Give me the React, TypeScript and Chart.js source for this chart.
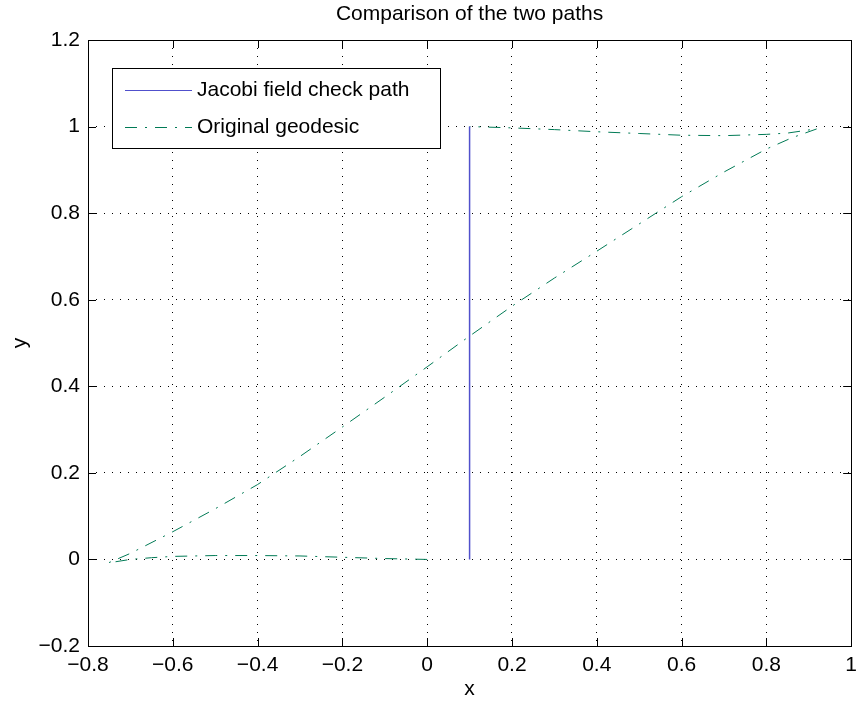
import React, { useEffect, useRef } from "react";
import { Chart, registerables } from "chart.js";

Chart.register(...registerables);

// Jacobi field check path (vertical segment)
const jacobiX = [0.1, 0.1];
const jacobiY = [0, 1];

// Original geodesic, in drawing order: bottom arc (right to left), diagonal (up), top arc (right to left)
const geodesicX = [
  0, -0.1, -0.2, -0.3, -0.4, -0.5, -0.6, -0.65, -0.7, -0.752,
  -0.7, -0.6, -0.5, -0.4, -0.3, -0.2, -0.1, 0, 0.1, 0.2, 0.3, 0.4, 0.5, 0.6, 0.7, 0.8, 0.86, 0.92,
  0.85, 0.8, 0.7, 0.6, 0.5, 0.4, 0.3, 0.2, 0.1,
];
const geodesicY = [
  0, 0.002, 0.005, 0.008, 0.009, 0.009, 0.007, 0.004, 0.0, -0.008,
  0.014, 0.064, 0.117, 0.173, 0.238, 0.306, 0.375, 0.445, 0.516, 0.585, 0.65, 0.712, 0.775, 0.838, 0.895, 0.948, 0.974, 0.995,
  0.985, 0.982, 0.979, 0.98, 0.984, 0.988, 0.993, 0.997, 1.0,
];

const xTicks = [-0.8, -0.6, -0.4, -0.2, 0, 0.2, 0.4, 0.6, 0.8, 1];
const yTicks = [-0.2, 0, 0.2, 0.4, 0.6, 0.8, 1, 1.2];

const titleText = "Comparison of the two paths";
const xLabel = "x";
const yLabel = "y";
const legendLabels = ["Jacobi field check path", "Original geodesic"];

const BLUE = "#5050cc";
const GREEN = "#007a55";
const FONT = "'Liberation Sans', Arial, Helvetica, sans-serif";

const fmt = (v: number) => {
  const r = Math.round(v * 10) / 10;
  const s = String(Math.abs(r));
  return r < 0 ? "\u2212" + s : s;
};

const decorPlugin = {
  id: "matlabDecor",
  afterDraw(chart: any) {
    const ctx = chart.ctx as CanvasRenderingContext2D;
    const { left, right, top, bottom } = chart.chartArea;
    const xs = chart.scales.x;
    const ys = chart.scales.y;
    ctx.save();
    // box
    ctx.strokeStyle = "#000";
    ctx.lineWidth = 1;
    ctx.setLineDash([]);
    ctx.strokeRect(Math.round(left) + 0.5, Math.round(top) + 0.5, Math.round(right - left), Math.round(bottom - top));
    // inward ticks
    const tl = 8;
    ctx.beginPath();
    xTicks.forEach((t) => {
      const px = Math.round(xs.getPixelForValue(t)) + 0.5;
      ctx.moveTo(px, bottom);
      ctx.lineTo(px, bottom - tl);
      ctx.moveTo(px, top);
      ctx.lineTo(px, top + tl);
    });
    yTicks.forEach((t) => {
      const py = Math.round(ys.getPixelForValue(t)) + 0.5;
      ctx.moveTo(left, py);
      ctx.lineTo(left + tl, py);
      ctx.moveTo(right, py);
      ctx.lineTo(right - tl, py);
    });
    ctx.stroke();

    // title and axis labels
    ctx.fillStyle = "#000";
    ctx.font = `21px ${FONT}`;
    ctx.textAlign = "center";
    ctx.textBaseline = "middle";
    const cx = (left + right) / 2;
    ctx.fillText(titleText, cx, 14);
    ctx.fillText(xLabel, cx, 689);
    ctx.save();
    ctx.translate(20, (top + bottom) / 2);
    ctx.rotate(-Math.PI / 2);
    ctx.fillText(yLabel, 0, 0);
    ctx.restore();

    // legend
    const lx = left + 24;
    const ly = top + 28;
    const lw = 328;
    const lh = 80;
    ctx.fillStyle = "#fff";
    ctx.fillRect(lx, ly, lw, lh);
    ctx.strokeStyle = "#000";
    ctx.lineWidth = 1;
    ctx.strokeRect(Math.round(lx) + 0.5, Math.round(ly) + 0.5, lw, lh);
    const rows = [ly + 22.5, ly + 59.5];
    const colors = [BLUE, GREEN];
    const dashes = [[], [12, 8, 2, 8]];
    rows.forEach((ry, i) => {
      ctx.strokeStyle = colors[i];
      ctx.setLineDash(dashes[i]);
      ctx.beginPath();
      ctx.moveTo(lx + 13, ry);
      ctx.lineTo(lx + 80, ry);
      ctx.stroke();
      ctx.setLineDash([]);
      ctx.fillStyle = "#000";
      ctx.textAlign = "left";
      ctx.textBaseline = "middle";
      ctx.fillText(legendLabels[i], lx + 85, ry);
    });
    ctx.restore();
  },
};

export default function App() {
  const ref = useRef<HTMLCanvasElement | null>(null);
  useEffect(() => {
    document.body.style.margin = "0";
    const canvas = ref.current!;
    const chart = new Chart(canvas, {
      type: "scatter",
      data: {
        datasets: [
          {
            label: legendLabels[0],
            data: jacobiX.map((x, i) => ({ x, y: jacobiY[i] })),
            showLine: true,
            borderColor: BLUE,
            borderWidth: 1.5,
            pointRadius: 0,
            fill: false,
          },
          {
            label: legendLabels[1],
            data: geodesicX.map((x, i) => ({ x, y: geodesicY[i] })),
            showLine: true,
            borderColor: GREEN,
            borderWidth: 1,
            borderDash: [12, 8, 2, 8],
            pointRadius: 0,
            tension: 0,
            fill: false,
          },
        ],
      },
      options: {
        responsive: false,
        animation: false,
        events: [],
        layout: { padding: { left: 0, right: 8, top: 40, bottom: 0 } },
        plugins: {
          legend: { display: false },
          title: { display: false },
          tooltip: { enabled: false },
        },
        scales: {
          x: {
            type: "linear",
            min: -0.8,
            max: 1,
            afterFit: (s: any) => {
              s.height = 60;
            },
            afterBuildTicks: (s: any) => {
              s.ticks = xTicks.map((v) => ({ value: v }));
            },
            ticks: {
              callback: (v: any) => fmt(Number(v)),
              color: "#000",
              font: { family: FONT, size: 21 },
              padding: 7,
              maxRotation: 0,
              autoSkip: false,
            },
            grid: { color: "#000", lineWidth: 1, drawTicks: false },
            border: { display: false, dash: [1, 7] },
          },
          y: {
            type: "linear",
            min: -0.2,
            max: 1.2,
            afterFit: (s: any) => {
              s.width = 88;
            },
            afterBuildTicks: (s: any) => {
              s.ticks = yTicks.map((v) => ({ value: v }));
            },
            ticks: {
              callback: (v: any) => fmt(Number(v)),
              color: "#000",
              font: { family: FONT, size: 21 },
              padding: 8,
              autoSkip: false,
            },
            grid: { color: "#000", lineWidth: 1, drawTicks: false },
            border: { display: false, dash: [1, 7] },
          },
        },
      },
      plugins: [decorPlugin],
    } as any);
    return () => chart.destroy();
  }, []);
  return (
    <div style={{ position: "absolute", left: 0, top: 0, width: 864, height: 706, background: "#fff" }}>
      <canvas ref={ref} width={864} height={706} style={{ display: "block" }} />
    </div>
  );
}
